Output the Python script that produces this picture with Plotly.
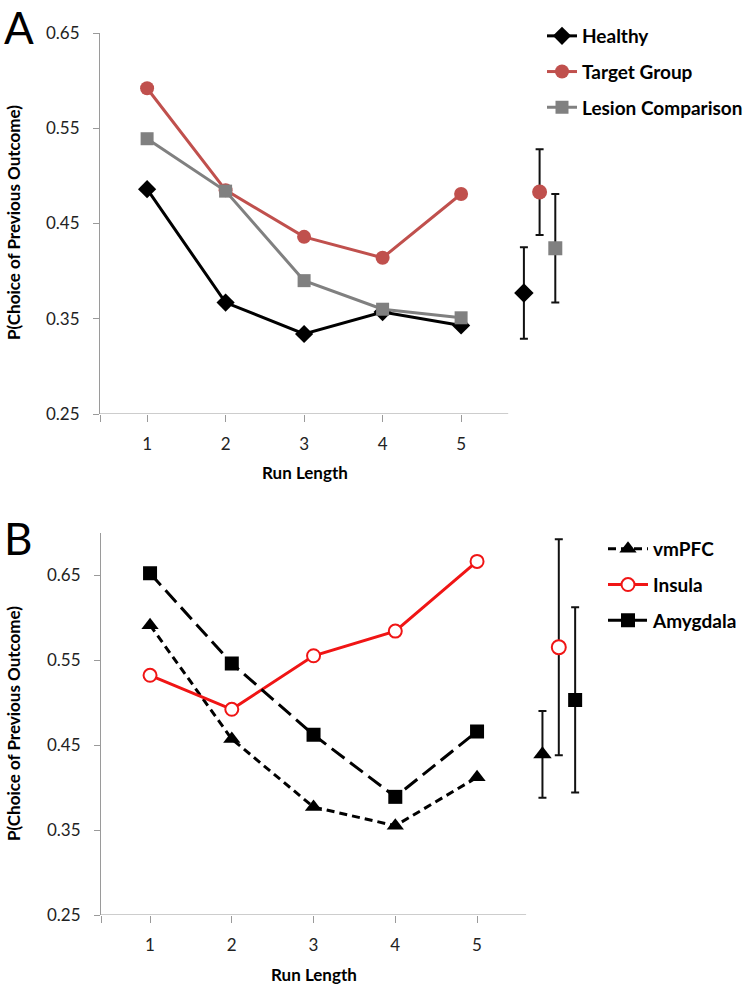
import plotly.graph_objects as go

# run lengths on the x axis
run_length = [1, 2, 3, 4, 5]

# panel A
healthy = [0.486, 0.367, 0.334, 0.357, 0.343]
target_group = [0.592, 0.485, 0.436, 0.414, 0.481]
lesion_comp = [0.539, 0.484, 0.390, 0.360, 0.351]
# overall means with error bars (plotted right of the axis)
a_err_x = [5.8, 6.0, 6.2]
a_err_mean = [0.377, 0.483, 0.424]
a_err_sem = [0.048, 0.045, 0.057]

# panel B
vmpfc = [0.591, 0.457, 0.377, 0.355, 0.412]
insula = [0.532, 0.492, 0.555, 0.584, 0.666]
amygdala = [0.652, 0.546, 0.462, 0.389, 0.466]
b_err_x = [5.8, 6.0, 6.2]
b_err_mean = [0.439, 0.565, 0.503]
b_err_sem = [0.051, 0.127, 0.109]

W, H = 747, 987
FONT = "Lato"
RED_A = "#c0504d"
GREY_A = "#808080"
RED_B = "#f01515"
AXIS = "#9a9a9a"

fig = go.Figure()


def line(x, y, name, color, symbol, size, dash, xa, ya, legend, fill=None):
    fig.add_trace(go.Scatter(
        x=x, y=y, name=name, mode="lines+markers",
        line=dict(color=color, width=3, dash=dash),
        marker=dict(symbol=symbol, size=size, color=fill or color,
                    line=dict(color=color, width=2 if fill else 0)),
        xaxis=xa, yaxis=ya, legend=legend, legendgroup=name,
    ))


def err_point(x, y, e, color, symbol, size, xa, ya, fill=None):
    fig.add_trace(go.Scatter(
        x=[x], y=[y], mode="markers", showlegend=False,
        marker=dict(symbol=symbol, size=size, color=fill or color,
                    line=dict(color=color, width=2 if fill else 0)),
        error_y=dict(type="data", array=[e], color="#111", thickness=2, width=4),
        xaxis=xa, yaxis=ya,
    ))


line(run_length, healthy, "Healthy", "#000000", "diamond", 14, "solid", "x", "y", "legend")
line(run_length, target_group, "Target Group", RED_A, "circle", 14, "solid", "x", "y", "legend")
line(run_length, lesion_comp, "Lesion Comparison", GREY_A, "square", 13, "solid", "x", "y", "legend")

a_cols = ["#000000", RED_A, GREY_A]
a_syms = ["diamond", "circle", "square"]
a_size = [15, 15, 14]
for i in range(3):
    err_point(a_err_x[i], a_err_mean[i], a_err_sem[i], a_cols[i], a_syms[i], a_size[i], "x", "y")

line(run_length, vmpfc, "vmPFC", "#000000", "triangle-up", 15, "8px,5px", "x2", "y2", "legend2")
line(run_length, insula, "Insula", RED_B, "circle", 13, "solid", "x2", "y2", "legend2", fill="white")
line(run_length, amygdala, "Amygdala", "#000000", "square", 14, "16px,7px", "x2", "y2", "legend2")

b_cols = ["#000000", RED_B, "#000000"]
b_syms = ["triangle-up", "circle", "square"]
b_fill = [None, "white", None]
b_size = [16, 14, 14]
for i in range(3):
    err_point(b_err_x[i], b_err_mean[i], b_err_sem[i], b_cols[i], b_syms[i], b_size[i], "x2", "y2", fill=b_fill[i])

tick_font = dict(family=FONT, size=17, color="#222")
xticks = dict(
    range=[0.4, 6.4], showline=False, showgrid=False, zeroline=False,
    tickvals=[0.4] + run_length, ticktext=[""] + [str(v) for v in run_length],
    ticks="outside", ticklen=7, tickcolor=AXIS, tickfont=tick_font,
    ticklabelstandoff=8,
)
yticks = dict(
    showline=True, linecolor=AXIS, linewidth=1, showgrid=False, zeroline=False,
    tickvals=[0.25, 0.35, 0.45, 0.55, 0.65], tickformat=".2f",
    ticks="outside", ticklen=6, tickcolor=AXIS, tickfont=tick_font,
    ticklabelstandoff=10,
)

legend_font = dict(family=FONT, size=19, color="#000", weight="bold")
fig.update_layout(
    width=W, height=H, margin=dict(l=0, r=0, t=0, b=0, autoexpand=False),
    paper_bgcolor="white", plot_bgcolor="white",
    font=dict(family=FONT, color="#000"),
    xaxis=dict(domain=[100 / W, 571 / W], anchor="y", **xticks),
    yaxis=dict(domain=[(H - 414) / H, (H - 33) / H], range=[0.25, 0.65], anchor="x", **yticks),
    xaxis2=dict(domain=[101 / W, 591.5 / W], anchor="y2", **xticks),
    yaxis2=dict(domain=[(H - 915) / H, (H - 532.5) / H], range=[0.25, 0.70], anchor="x2", **yticks),
    legend=dict(x=542 / W, y=1 - 17 / H, xanchor="left", yanchor="top",
                font=legend_font, tracegroupgap=8, bgcolor="rgba(0,0,0,0)"),
    legend2=dict(x=603 / W, y=1 - 530 / H, xanchor="left", yanchor="top",
                 font=legend_font, tracegroupgap=8, itemwidth=40,
                 bgcolor="rgba(0,0,0,0)"),
    shapes=[
        dict(type="line", xref="x", yref="y", x0=0.4, x1=5.6, y0=0.25, y1=0.25,
             line=dict(color=AXIS, width=1)),
        dict(type="line", xref="x2", yref="y2", x0=0.4, x1=5.6, y0=0.25, y1=0.25,
             line=dict(color=AXIS, width=1)),
    ],
)

title_font = dict(family=FONT, size=17, color="#000", weight="bold")
ann = [
    dict(text="A", x=2 / W, y=1 - 26.5 / H, xanchor="left", yanchor="middle",
         font=dict(family=FONT, size=44, color="#000")),
    dict(text="B", x=2 / W, y=1 - 538 / H, xanchor="left", yanchor="middle",
         font=dict(family=FONT, size=44, color="#000")),
    dict(text="P(Choice of Previous Outcome)", x=13 / W, y=1 - 223 / H, textangle=-90,
         xanchor="center", yanchor="middle", font=title_font),
    dict(text="P(Choice of Previous Outcome)", x=13 / W, y=1 - 724 / H, textangle=-90,
         xanchor="center", yanchor="middle", font=title_font),
    dict(text="Run Length", x=305 / W, y=1 - 472 / H, xanchor="center", yanchor="middle",
         font=title_font),
    dict(text="Run Length", x=314 / W, y=1 - 974 / H, xanchor="center", yanchor="middle",
         font=title_font),
]
for a in ann:
    a.update(xref="paper", yref="paper", showarrow=False)
fig.update_layout(annotations=ann)

# page body has a default 8px margin; drop it so the figure sits at the corner
fig.write_html("out.html", config={"displayModeBar": False},
               post_script="document.body.style.margin='0';")
